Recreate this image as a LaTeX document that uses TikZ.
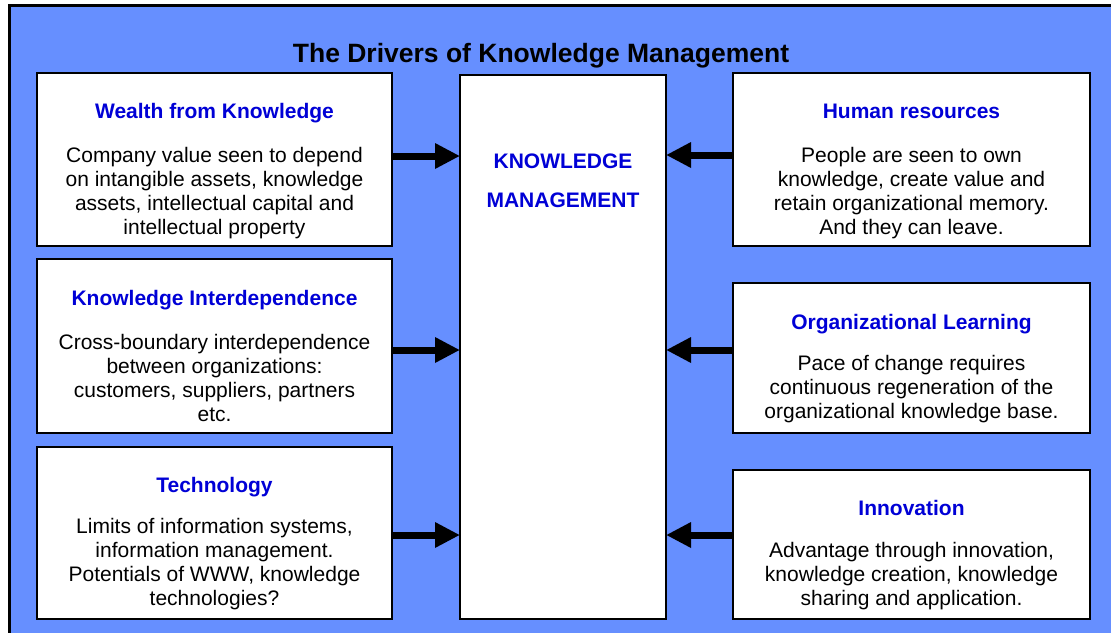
\documentclass[tikz,border=0pt]{standalone}
\usepackage{fontspec}
\setmainfont{Liberation Sans}
\usetikzlibrary{arrows.meta}
\definecolor{bgblue}{RGB}{102,143,255}
\definecolor{hdrblue}{RGB}{0,0,214}
\begin{document}
\begin{tikzpicture}[x=1pt,y=-1pt,
  box/.style={draw=black,line width=2pt,fill=white,inner sep=0pt,outer sep=0pt},
  hdr/.style={text=hdrblue,font=\fontsize{21}{25}\selectfont\bfseries,inner sep=0pt,text height=15pt,text depth=4.5pt},
  body/.style={align=center,font=\fontsize{21}{24}\selectfont,inner sep=0pt},
  arr/.style={line width=7pt,-{Triangle[length=25pt,width=24pt]}}
]
\useasboundingbox (0,0) rectangle (1111,632);
\clip (0,0) rectangle (1111,632);
\draw[fill=bgblue,line width=3pt] (9.5,5.5) rectangle (1125,645);

\node[font=\fontsize{26.5}{30}\selectfont\bfseries,inner sep=0pt] (title) at (541,55.5) {The Drivers of Knowledge Management};

% boxes
\node[box,minimum width=355pt,minimum height=173pt] (L1) at (214.5,159.5) {};
\node[box,minimum width=355pt,minimum height=174pt] (L2) at (214.5,346) {};
\node[box,minimum width=355pt,minimum height=172pt] (L3) at (214.5,533) {};
\node[box,minimum width=206pt,minimum height=544pt] (C) at (563,347) {};
\node[box,minimum width=357pt,minimum height=173pt] (R1) at (911.5,159.5) {};
\node[box,minimum width=357pt,minimum height=150pt] (R2) at (911.5,358) {};
\node[box,minimum width=357pt,minimum height=149pt] (R3) at (911.5,544.5) {};

% arrows
\draw[arr] ([yshift=3.5pt]L1.east) -- ([yshift=3.5pt]L1.east -| C.west);
\draw[arr] ([yshift=-4pt]L2.east) -- ([yshift=-4pt]L2.east -| C.west);
\draw[arr] ([yshift=-2pt]L3.east) -- ([yshift=-2pt]L3.east -| C.west);
\draw[arr] ([yshift=4.5pt]R1.west) -- ([yshift=4.5pt]R1.west -| C.east);
\draw[arr] ([yshift=8pt]R2.west) -- ([yshift=8pt]R2.west -| C.east);
\draw[arr] ([yshift=9.5pt]R3.west) -- ([yshift=9.5pt]R3.west -| C.east);

% center text
\node[text=hdrblue,inner sep=0pt,align=center,font=\fontsize{21}{39}\selectfont\bfseries] (Ct) at (563,181) {KNOWLEDGE\\MANAGEMENT};

% left texts
\node[hdr] (L1h) at (214.5,113.5) {Wealth from Knowledge};
\node[body] (L1b) at (214.5,193) {Company value seen to depend\\on intangible assets, knowledge\\assets, intellectual capital and\\intellectual property};
\node[hdr] (L2h) at (214.5,300.5) {Knowledge Interdependence};
\node[body] (L2b) at (214.5,378) {Cross-boundary interdependence\\between organizations:\\customers, suppliers, partners\\etc.};
\node[hdr] (L3h) at (214.5,487.5) {Technology};
\node[body] (L3b) at (214.5,564) {Limits of information systems,\\information management.\\Potentials of WWW, knowledge\\technologies?};

% right texts
\node[hdr] (R1h) at (911.5,113.5) {Human resources};
\node[body] (R1b) at (911.5,193) {People are seen to own\\knowledge, create value and\\retain organizational memory.\\And they can leave.};
\node[hdr] (R2h) at (911.5,324.5) {Organizational Learning};
\node[body] (R2b) at (911.5,389) {Pace of change requires\\continuous regeneration of the\\organizational knowledge base.};
\node[hdr] (R3h) at (911.5,510.5) {Innovation};
\node[body] (R3b) at (911.5,576) {Advantage through innovation,\\knowledge creation, knowledge\\sharing and application.};
\end{tikzpicture}
\end{document}
